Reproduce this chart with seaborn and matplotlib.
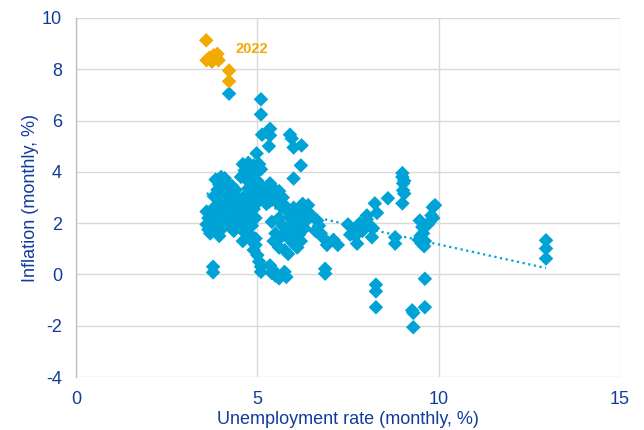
import matplotlib
matplotlib.use("Agg")
import matplotlib.pyplot as plt
import seaborn as sns
import numpy as np
import pandas as pd

# ---- data ----
blue_unemp = [
    4.22, 5.10, 5.10, 5.35, 5.13, 5.35, 5.32, 5.90, 5.95, 6.00, 6.22, 4.98, 6.20, 6.00,
    4.60, 4.75, 4.90, 5.05, 4.65, 4.80, 4.95, 4.55, 4.70, 4.85, 5.00, 5.10,
    3.85, 4.00, 4.10, 3.95, 4.15, 4.30, 3.90, 4.05, 4.25, 4.40, 4.20, 4.40, 3.80,
    3.60, 3.65, 3.60, 3.65, 3.70, 3.75, 3.80, 3.85, 3.80, 3.90, 3.95, 3.95, 4.00, 4.05,
    4.10, 4.15, 3.70, 4.00,
    4.25, 4.35, 4.30, 4.40, 4.50, 4.55, 4.50, 4.45, 4.60, 4.70, 4.75, 4.70, 4.85, 4.90,
    4.95, 4.85, 5.00, 4.35, 4.25, 4.60, 4.80,
    4.80, 4.85, 4.95, 4.90, 5.00, 5.05, 5.10, 5.10, 4.95, 4.60,
    5.00, 5.10, 5.20, 5.15, 5.30, 5.35, 5.45, 5.50, 5.60, 5.70, 5.40, 5.55, 5.25, 5.05,
    5.65, 5.80, 4.75, 4.90, 5.35,
    5.75, 5.85, 5.90, 6.00, 6.10, 6.20, 6.30, 6.35, 5.95, 6.05, 6.15, 6.30, 5.80, 5.90,
    6.00, 6.10, 5.70, 5.60, 5.50, 5.45, 5.60, 5.75, 5.85, 6.20, 5.65, 5.40, 6.40, 6.25,
    6.50,
    5.35, 5.45, 5.50, 5.60, 5.75, 5.80, 5.40,
    3.78, 3.78,
    6.65, 6.70, 6.75, 6.80, 6.92, 7.22, 7.10, 6.87, 6.87, 6.60,
    7.50, 7.56, 7.65, 7.75, 7.83, 7.90, 8.02, 8.10, 8.19, 8.16, 8.24, 8.30, 8.02, 7.70,
    8.27, 8.27, 8.27,
    8.60, 8.80, 8.80,
    9.00, 9.00, 9.02, 9.02, 9.00, 9.05, 9.05,
    9.27, 9.30, 9.30,
    9.48, 9.55, 9.57, 9.45, 9.53, 9.60, 9.62, 9.50, 9.62, 9.62,
    9.84, 9.90, 9.80, 9.75, 9.85, 9.70,
    12.96, 12.96, 12.96,
]
blue_infl = [
    7.05, 6.83, 6.24, 5.68, 5.45, 5.42, 5.00, 5.45, 5.30, 4.95, 5.03, 4.72, 4.25, 3.74,
    4.30, 4.35, 4.25, 4.30, 4.05, 4.00, 3.95, 3.80, 3.70, 3.60, 3.65, 4.10,
    3.70, 3.80, 3.75, 3.50, 3.55, 3.45, 3.30, 3.25, 3.20, 3.30, 3.00, 3.05, 3.05,
    2.45, 2.20, 1.95, 1.75, 1.60, 2.35, 2.60, 2.10, 1.85, 1.60, 1.50, 2.80, 2.45, 2.15,
    1.90, 2.60, 2.00, 1.75,
    2.85, 2.60, 2.30, 2.05, 2.80, 2.50, 2.20, 1.85, 1.70, 2.65, 2.35, 2.00, 2.90, 2.55,
    2.20, 1.90, 2.80, 1.70, 1.95, 3.00, 3.10,
    1.55, 1.30, 1.15, 0.95, 0.75, 0.50, 0.30, 0.10, 1.40, 1.30,
    3.60, 3.45, 3.30, 3.10, 3.20, 3.45, 3.35, 3.10, 3.25, 3.00, 2.90, 2.80, 2.75, 3.00,
    2.65, 2.50, 3.35, 3.30, 3.55,
    2.70, 2.45, 2.20, 2.60, 2.30, 2.00, 2.50, 2.10, 1.95, 1.75, 1.55, 1.80, 1.60, 1.35,
    1.20, 1.05, 1.90, 2.20, 1.60, 1.30, 1.05, 0.95, 0.80, 1.30, 1.45, 2.05, 2.70, 2.75,
    2.30,
    0.35, 0.15, -0.05, -0.15, 0.10, -0.10, 0.05,
    0.30, 0.08,
    2.10, 1.90, 1.60, 1.45, 1.15, 1.15, 1.35, 0.22, 0.03, 1.70,
    1.95, 1.55, 1.75, 1.20, 2.00, 1.70, 2.15, 1.90, 1.80, 1.45, 2.77, 2.40, 2.30, 1.50,
    -0.40, -0.66, -1.28,
    2.97, 1.45, 1.20,
    3.95, 3.80, 3.55, 3.28, 2.77, 3.65, 3.15,
    -1.40, -1.50, -2.06,
    2.10, 1.85, 1.60, 1.35, 1.20, 1.10, 1.30, 1.50, -0.17, -1.28,
    2.62, 2.70, 2.30, 2.05, 2.20, 1.95,
    1.33, 1.01, 0.62,
]
y2022_unemp = [3.59, 3.60, 3.68, 3.75, 3.85, 3.90, 3.93, 3.80, 4.22, 4.22]
y2022_infl = [9.13, 8.35, 8.45, 8.30, 8.50, 8.60, 8.35, 8.55, 7.95, 7.53]

# linear trend (dotted line)
trend_slope = -0.311
trend_intercept = 4.28

x_ticks = [0, 5, 10, 15]
y_ticks = [-4, -2, 0, 2, 4, 6, 8, 10]
x_label = "Unemployment rate (monthly, %)"
y_label = "Inflation (monthly, %)"
annot_text = "2022"

BLUE = "#00A3D6"
ORANGE = "#F2A900"
TEXT = "#123C9C"
GRID = "#D9D9D9"

sns.set_theme(style="white")
plt.rcParams["font.family"] = ["Liberation Sans", "DejaVu Sans"]
plt.rcParams["axes.unicode_minus"] = False

fig = plt.figure(figsize=(6.44, 4.3), dpi=100)
ax = fig.add_axes([76 / 644, 1 - 377 / 430, (620 - 76) / 644, (377 - 18) / 430])

blue_df = pd.DataFrame({"u": blue_unemp, "i": blue_infl})
y22_df = pd.DataFrame({"u": y2022_unemp, "i": y2022_infl})

tx = np.array([blue_df["u"].min(), blue_df["u"].max()])
ty = trend_intercept + trend_slope * tx
ax.plot(tx, ty, color=BLUE, lw=1.6, linestyle=(0, (1, 1.6)), zorder=2)

sns.scatterplot(data=blue_df, x="u", y="i", marker="D", s=55, color=BLUE,
                edgecolor="none", ax=ax, zorder=3)
sns.scatterplot(data=y22_df, x="u", y="i", marker="D", s=55, color=ORANGE,
                edgecolor="none", ax=ax, zorder=4)

ax.text(4.85, 8.8, annot_text, color=ORANGE, fontweight="bold", fontsize=10.5,
        ha="center", va="center")

ax.set_xlim(0, 15)
ax.set_ylim(-4, 10)
ax.set_xticks(x_ticks)
ax.set_yticks(y_ticks)
ax.grid(True, color=GRID, lw=1.0)
ax.set_axisbelow(True)
for s in ["top", "right", "bottom"]:
    ax.spines[s].set_visible(False)
ax.spines["left"].set_color("#BFBFBF")
ax.spines["left"].set_linewidth(1.0)
ax.tick_params(axis="both", length=0, labelsize=13, colors=TEXT)
ax.tick_params(axis="y", pad=10)
ax.tick_params(axis="x", pad=10)
ax.set_xlabel(x_label, fontsize=13, color=TEXT, labelpad=2)
ax.set_ylabel(y_label, fontsize=13, color=TEXT, labelpad=2)

fig.savefig("out.png", dpi=100)
